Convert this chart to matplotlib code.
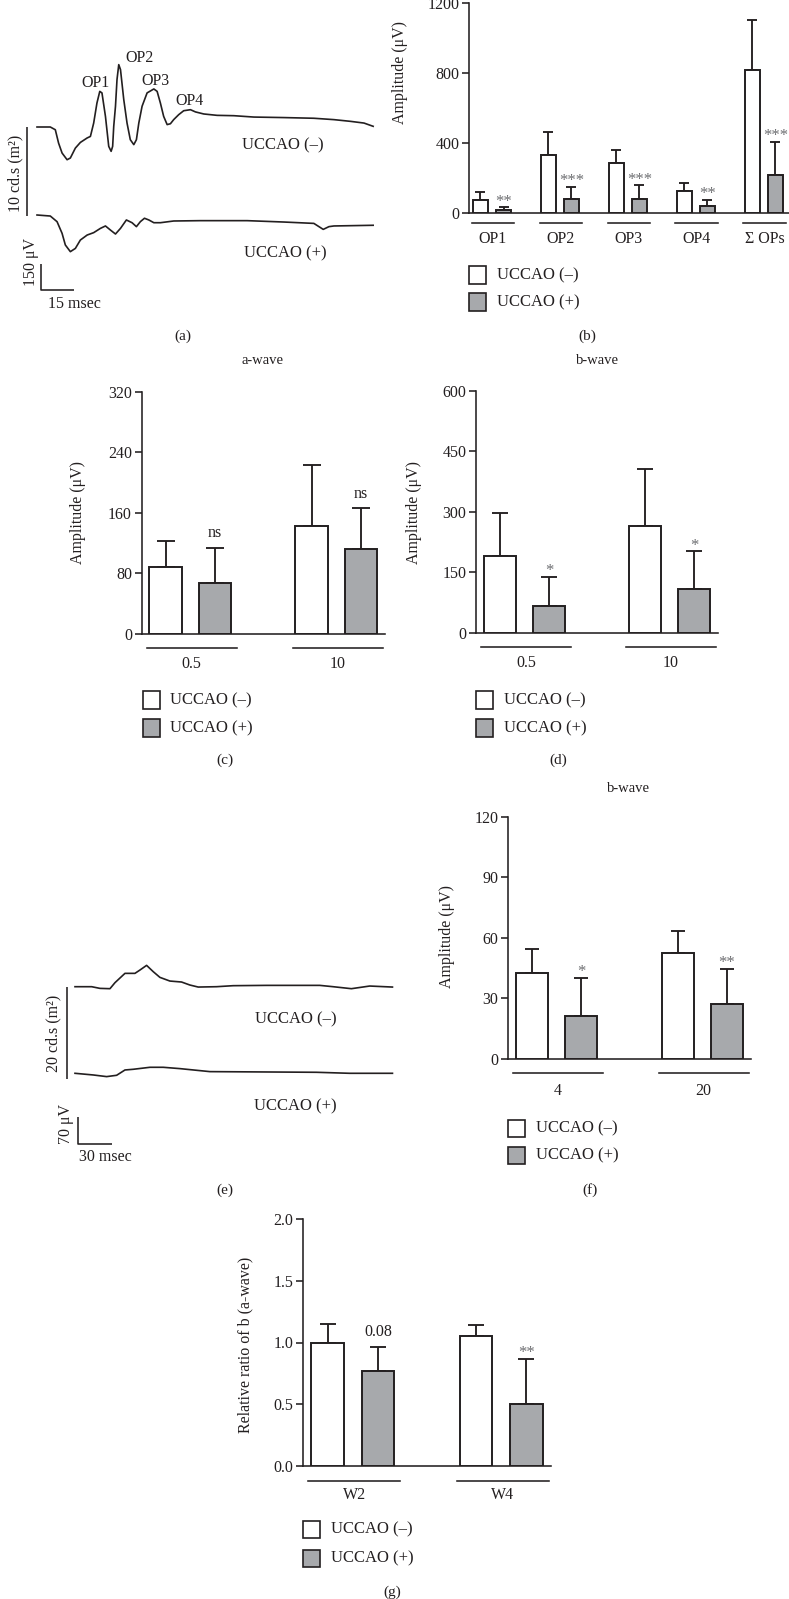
import matplotlib
matplotlib.use("Agg")
import matplotlib.pyplot as plt
import matplotlib.patches as patches
import matplotlib.transforms as mtransforms
import numpy as np

plt.rcParams['font.family'] = ['Liberation Serif', 'DejaVu Serif']
plt.rcParams['axes.linewidth'] = 1.15

W, H = 789, 1599
INK = '#231f20'
GRAY = '#a7a9ac'
STAR = '#6d6e71'

# ==================== data ====================
# (a) oscillatory potentials, msec / μV
a_time_neg = [0, 6.1, 8.4, 9.9, 11.5, 13.8, 15.3, 17.6, 19.9, 23.0, 24.5, 26.0, 27.5,
              28.8, 29.8, 31.4, 32.9, 34.0, 34.7, 35.2, 36.0, 36.7, 37.5, 38.3, 39.8,
              41.3, 42.8, 44.4, 45.6, 46.7, 48.2, 50.5, 53.6, 55.1, 56.6, 58.1, 59.7,
              61.2, 62.7, 65.0, 67.3, 70.4, 72.7, 76.5, 82.6, 90.3, 99.5, 113.2, 127.0,
              136.2, 143.8, 150.0, 154.2]
a_amp_neg = [0, 0, -16, -94, -152, -191, -181, -123, -90, -64, -55, 23, 140,
             208, 199, 62, -113, -142, -113, 4, 121, 277, 364, 335, 160,
             23, -74, -103, -74, 23, 121, 199, 222, 208, 140, 62, 14,
             19, 43, 72, 95, 101, 88, 76, 68, 66, 58, 55, 51,
             43, 33, 23, 4]
a_time_pos = [0, 6.1, 9.2, 11.5, 13.0, 15.3, 17.6, 19.9, 23.0, 26.0, 29.1, 31.4, 33.7,
              36.0, 38.3, 41.0, 43.6, 45.6, 47.4, 49.3, 51.3, 53.6, 56.6, 62.7, 74.9,
              96.4, 113.2, 127.0, 131.3, 133.9, 136.2, 154.2]
a_amp_pos = [0, -6, -39, -107, -175, -214, -195, -146, -117, -103, -78, -64, -88,
             -111, -78, -29, -45, -68, -39, -19, -29, -45, -45, -35, -33,
             -33, -41, -49, -84, -68, -64, -60]

# (b) OPs amplitude
op_cats = ['OP1', 'OP2', 'OP3', 'OP4', 'Σ OPs']
op_neg = [76, 331, 286, 126, 819]
op_neg_sd = [46, 130, 76, 45, 286]
op_pos = [15, 80, 80, 40, 217]
op_pos_sd = [17, 70, 78, 36, 191]
op_sig = ['**', '***', '***', '**', '***']

# (c) a-wave
aw_cats = ['0.5', '10']
aw_neg = [88, 143]
aw_neg_sd = [35, 80]
aw_pos = [68, 112]
aw_pos_sd = [46, 54]
aw_sig = ['ns', 'ns']

# (d) b-wave
bw_cats = ['0.5', '10']
bw_neg = [191, 265]
bw_neg_sd = [107, 142]
bw_pos = [66, 108]
bw_pos_sd = [73, 95]
bw_sig = ['*', '*']

# (e) flicker traces, msec / μV
e_time_neg = [0, 15, 22.5, 31.5, 36, 45, 54, 58.5, 64.5, 70.5, 76.5, 85.5, 96,
              103.5, 111, 127.5, 142.5, 172.5, 220.5, 232.5, 249, 265.5, 286]
e_amp_neg = [0, 0, -4.3, -5.1, 10.3, 34.2, 34.2, 42.7, 54.7, 38.5, 23.9, 14.5, 12,
             4.3, -0.9, 0, 2.6, 3.4, 3.4, 0, -5.1, 1.7, -0.9]
e_time_pos = [0, 16.5, 28.5, 37.5, 45, 52.5, 67.5, 79.5, 94.5, 121.5, 172.5, 217.5,
              247.5, 286]
e_amp_pos = [0, -4.3, -8.5, -5.1, 8.5, 10.3, 15.4, 15.4, 12, 4.3, 3.4, 2.6, 0, 0]

# (f) flicker b-wave
fl_cats = ['4', '20']
fl_neg = [42.4, 52.5]
fl_neg_sd = [12.1, 11.1]
fl_pos = [21.5, 27.4]
fl_pos_sd = [18.8, 17.3]
fl_sig = ['*', '**']

# (g) relative ratio
rr_cats = ['W2', 'W4']
rr_neg = [1.0, 1.055]
rr_neg_sd = [0.15, 0.09]
rr_pos = [0.767, 0.505]
rr_pos_sd = [0.20, 0.364]
rr_sig = ['0.08', '**']

# ==================== helpers ====================
fig = plt.figure(figsize=(W / 100, H / 100), dpi=100, facecolor='white')


def px_box(x0, y0, x1, y1):
    return [x0 / W, 1 - y1 / H, (x1 - x0) / W, (y1 - y0) / H]


def ftext(x, y, s, **kw):
    kw.setdefault('ha', 'center')
    kw.setdefault('va', 'center')
    kw.setdefault('color', INK)
    kw.setdefault('fontsize', 11.5)
    fig.text(x / W, 1 - y / H, s, **kw)


def fline(xs, ys, lw=1.15):
    fig.add_artist(plt.Line2D([x / W for x in xs], [1 - y / H for y in ys],
                              color=INK, lw=lw, solid_capstyle='butt'))


def legend_block(x, y, gap=28):
    items = [('white', 'UCCAO (–)'), (GRAY, 'UCCAO (+)')]
    for k, (fc, lab) in enumerate(items):
        yy = y + k * gap
        fig.add_artist(patches.Rectangle(((x - 8.5) / W, 1 - (yy + 8.5) / H), 17 / W, 17 / H,
                                         facecolor=fc, edgecolor=INK, lw=1.2,
                                         transform=fig.transFigure))
        ftext(x + 19.5, yy, lab, ha='left', fontsize=12)


def trace_axes(x0, y0, x1, y1, ox, oy, px_x, px_y):
    # axes placed in pixels, origin (ox, oy) in pixels, px per msec / px per μV
    ax = fig.add_axes(px_box(x0, y0, x1, y1))
    ax.set_xlim((x0 - ox) / px_x, (x1 - ox) / px_x)
    ax.set_ylim((oy - y1) / px_y, (oy - y0) / px_y)
    ax.axis('off')
    return ax


def bar_panel(box, xlim, cats, neg, neg_sd, pos, pos_sd, sig, yticks, ylabel,
              ylab_y, ylab_dx, cap, lab_dy, line_dy, ticklabels=None):
    ax = fig.add_axes(px_box(*box))
    x = np.arange(len(cats))
    zeros = np.zeros(len(x))
    ax.errorbar(x - 0.17, neg, yerr=[zeros, neg_sd], fmt='none', ecolor=INK,
                elinewidth=1.35, capsize=cap, capthick=1.35, zorder=2)
    ax.errorbar(x + 0.17, pos, yerr=[zeros, pos_sd], fmt='none', ecolor=INK,
                elinewidth=1.35, capsize=cap, capthick=1.35, zorder=2)
    ax.bar(x - 0.17, neg, 0.22, color='white', edgecolor=INK, lw=1.4, zorder=3)
    ax.bar(x + 0.17, pos, 0.22, color=GRAY, edgecolor=INK, lw=1.4, zorder=3)

    ax.set_xlim(*xlim)
    ax.set_ylim(yticks[0], yticks[-1])
    ax.set_yticks(yticks)
    if ticklabels is not None:
        ax.set_yticklabels(ticklabels)
    ax.set_xticks([])
    ax.tick_params(axis='y', direction='out', length=5, width=1.15, labelsize=11.5,
                   pad=2, colors=INK)
    for s in ['top', 'right']:
        ax.spines[s].set_visible(False)
    for s in ['left', 'bottom']:
        ax.spines[s].set_color(INK)

    width_px = box[2] - box[0]
    height_px = box[3] - box[1]
    ax.set_ylabel(ylabel, fontsize=11.5, color=INK, va='center')
    ax.yaxis.set_label_coords(-ylab_dx / width_px, (box[3] - ylab_y) / height_px)

    # significance marks
    for i in range(len(x)):
        top = pos[i] + pos_sd[i]
        if '*' in sig[i]:
            ax.annotate(sig[i], xy=(x[i] + 0.17, top), xytext=(0, 1),
                        textcoords='offset points', ha='center', va='baseline',
                        fontsize=12, color=STAR)
        else:
            ax.annotate(sig[i], xy=(x[i] + 0.17, top), xytext=(0, 7.5),
                        textcoords='offset points', ha='center', va='baseline',
                        fontsize=11.5, color=INK)

    # group underline and labels below the axis
    line_tr = mtransforms.offset_copy(ax.get_xaxis_transform(), fig=fig,
                                      y=-line_dy * 0.72, units='points')
    for i, c in enumerate(cats):
        ax.plot([x[i] - 0.30, x[i] + 0.32], [0, 0], color=INK, lw=1.15,
                transform=line_tr, clip_on=False)
        ax.annotate(c, xy=(x[i] + 0.01, 0), xycoords=ax.get_xaxis_transform(),
                    xytext=(0, -lab_dy * 0.72), textcoords='offset points',
                    ha='center', va='center', fontsize=11.5, color=INK,
                    annotation_clip=False)
    return ax


# ==================== (a) OP traces ====================
px_ms_a = 32.7 / 15
px_uv_a = 25.7 / 150
ax_a = trace_axes(0, 20, 400, 320, 37, 127, px_ms_a, px_uv_a)
shift_a = (215 - 127) / px_uv_a
ax_a.plot(a_time_neg, a_amp_neg, color=INK, lw=1.2, solid_joinstyle='round')
ax_a.plot(a_time_pos, np.array(a_amp_pos) - shift_a, color=INK, lw=1.2,
          solid_joinstyle='round')

ftext(95.5, 83, 'OP1')
ftext(139, 58, 'OP2')
ftext(155, 81, 'OP3')
ftext(190, 101, 'OP4')
ftext(283, 145, 'UCCAO (–)', fontsize=12)
ftext(285, 253, 'UCCAO (+)', fontsize=12)
fline([27.3, 27.3], [127, 216])
ftext(15.5, 173, '10 cd.s (m²)', rotation=90)
fline([41.3, 41.3, 74], [264, 290, 290])
ftext(31, 262, '150 μV', rotation=90)
ftext(74, 304, '15 msec')
ftext(183, 336, '(a)', fontsize=11)

# ==================== (b) OPs bars ====================
bar_panel((469, 3, 789, 213), (-0.338, 4.37), op_cats, op_neg, op_neg_sd,
          op_pos, op_pos_sd, op_sig, [0, 400, 800, 1200], 'Amplitude (μV)',
          ylab_y=72, ylab_dx=69, cap=3.5, lab_dy=26, line_dy=10)
legend_block(477.5, 275, gap=27)
ftext(587, 336, '(b)', fontsize=11)

# ==================== (c) a-wave ====================
bar_panel((141.7, 391.7, 385, 634), (-0.333, 1.333), aw_cats, aw_neg, aw_neg_sd,
          aw_pos, aw_pos_sd, aw_sig, [0, 80, 160, 240, 320], 'Amplitude (μV)',
          ylab_y=513, ylab_dx=63.5, cap=6.5, lab_dy=30, line_dy=14)
ftext(263, 361, 'a-wave', fontsize=10.5)
legend_block(151, 700)
ftext(225, 760, '(c)', fontsize=11)

# ==================== (d) b-wave ====================
bar_panel((476, 391, 718, 632.7), (-0.333, 1.333), bw_cats, bw_neg, bw_neg_sd,
          bw_pos, bw_pos_sd, bw_sig, [0, 150, 300, 450, 600], 'Amplitude (μV)',
          ylab_y=512, ylab_dx=62, cap=6, lab_dy=30, line_dy=14)
ftext(597, 361, 'b-wave', fontsize=10.5)
legend_block(484.5, 700)
ftext(558, 760, '(d)', fontsize=11)

# ==================== (e) flicker traces ====================
px_ms_e = 33.3 / 30
px_uv_e = 27.3 / 70
ax_e = trace_axes(0, 930, 400, 1100, 75, 986.7, px_ms_e, px_uv_e)
shift_e = (1073.3 - 986.7) / px_uv_e
ax_e.plot(e_time_neg, e_amp_neg, color=INK, lw=1.2, solid_joinstyle='round')
ax_e.plot(e_time_pos, np.array(e_amp_pos) - shift_e, color=INK, lw=1.2,
          solid_joinstyle='round')
ftext(295.5, 1019, 'UCCAO (–)', fontsize=12)
ftext(295.5, 1106, 'UCCAO (+)', fontsize=12)
fline([66.7, 66.7], [986.7, 1079])
ftext(53, 1033, '20 cd.s (m²)', rotation=90)
fline([78.3, 78.3, 111.7], [1117, 1144, 1144])
ftext(66, 1124, '70 μV', rotation=90)
ftext(105, 1157, '30 msec')
ftext(225, 1190, '(e)', fontsize=11)

# ==================== (f) flicker b-wave ====================
bar_panel((508.3, 816.7, 750.7, 1059), (-0.333, 1.333), fl_cats, fl_neg, fl_neg_sd,
          fl_pos, fl_pos_sd, fl_sig, [0, 30, 60, 90, 120], 'Amplitude (μV)',
          ylab_y=937, ylab_dx=61.6, cap=5, lab_dy=32, line_dy=14)
ftext(628, 788, 'b-wave', fontsize=10.5)
legend_block(516.5, 1128.5, gap=27)
ftext(590, 1190, '(f)', fontsize=11)

# ==================== (g) relative ratio ====================
bar_panel((303.3, 1219, 550.7, 1466), (-0.333, 1.333), rr_cats, rr_neg, rr_neg_sd,
          rr_pos, rr_pos_sd, rr_sig, [0.0, 0.5, 1.0, 1.5, 2.0],
          'Relative ratio of b (a-wave)', ylab_y=1345, ylab_dx=58.3, cap=6,
          lab_dy=29, line_dy=14.7, ticklabels=['0.0', '0.5', '1.0', '1.5', '2.0'])
legend_block(311.5, 1529.5, gap=28.5)
ftext(392, 1592, '(g)', fontsize=11)

plt.savefig('out.png', dpi=100)
